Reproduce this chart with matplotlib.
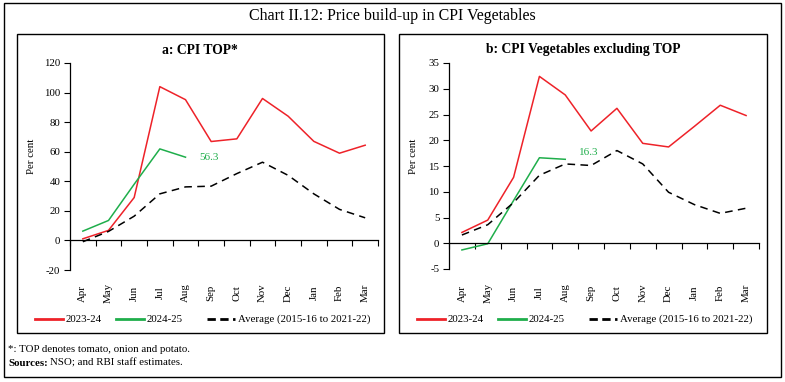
import numpy as np
import matplotlib
matplotlib.use("Agg")
import matplotlib.pyplot as plt
from matplotlib.patches import Rectangle
from matplotlib.lines import Line2D
from matplotlib.transforms import blended_transform_factory

plt.rcParams['font.family'] = ['Liberation Serif', 'DejaVu Serif']

months = ["Apr", "May", "Jun", "Jul", "Aug", "Sep", "Oct", "Nov", "Dec", "Jan", "Feb", "Mar"]

top_2324 = [1.1, 6.8, 29.0, 104.0, 95.2, 66.9, 68.7, 96.0, 84.0, 67.0, 59.0, 64.4]
top_2425 = [6.3, 13.5, 38.0, 61.9, 56.3]
top_avg = [-0.9, 6.1, 16.4, 31.5, 36.2, 36.7, 45.2, 52.9, 44.0, 31.5, 21.0, 15.3]

veg_2324 = [2.1, 4.5, 12.8, 32.4, 28.8, 21.8, 26.2, 19.4, 18.7, 22.7, 26.8, 24.8]
veg_2425 = [-1.3, -0.1, 8.3, 16.6, 16.3]
veg_avg = [1.6, 3.6, 7.9, 13.2, 15.4, 15.1, 18.0, 15.4, 9.9, 7.5, 5.8, 6.8]

series_labels = ["2023-24", "2024-25", "Average (2015-16 to 2021-22)"]

RED = "#ee2229"
GREEN = "#1fae4b"
BLACK = "#000000"

W, H = 785, 382
fig = plt.figure(figsize=(W / 100, H / 100), dpi=100)


def fx(px):
    return px / W


def fy(py):
    return 1 - py / H


def rect(x0, y0, x1, y1, lw=1.0):
    fig.add_artist(Rectangle((fx(x0), fy(y1)), fx(x1) - fx(x0), fy(y0) - fy(y1),
                             transform=fig.transFigure, fill=False,
                             edgecolor="black", linewidth=lw))


# Outer and panel borders
rect(4, 3, 781, 377, lw=1.0)
rect(17, 34, 384, 333, lw=1.0)
rect(399, 34, 767, 333, lw=1.0)

fig.text(fx(392), fy(16), "Chart II.12: Price build-up in CPI Vegetables",
         ha="center", va="center", fontsize=11.5)


def make_panel(x0, x1, ytop, ybot, ylim, ystep, title, title_x, d2324, d2425, davg,
               annot, annot_xy, ylab_x, offset):
    ax = fig.add_axes([fx(x0), fy(ybot), fx(x1) - fx(x0), fy(ytop) - fy(ybot)])
    x = np.arange(len(months))
    ax.plot(x, d2324, color=RED, lw=1.1)
    ax.plot(x[:len(d2425)], d2425, color=GREEN, lw=1.1)
    ax.plot(x, davg, color=BLACK, lw=1.1, dashes=(5, 3.5))
    ax.set_xlim(-0.5, len(months) - 0.5)
    ax.set_ylim(*ylim)
    ax.set_yticks(np.arange(ylim[0], ylim[1] + 0.1, ystep))
    ax.set_yticklabels([f"{v:g}" for v in np.arange(ylim[0], ylim[1] + 0.1, ystep)])
    ax.spines["top"].set_visible(False)
    ax.spines["right"].set_visible(False)
    ax.spines["bottom"].set_position(("data", 0))
    for s in ("left", "bottom"):
        ax.spines[s].set_linewidth(0.9)
    ax.set_xticks(np.arange(-0.5, len(months), 1.0))
    ax.set_xticklabels([])
    ax.tick_params(axis="x", direction="out", length=4, width=0.8)
    ax.tick_params(axis="y", direction="out", length=4, width=0.8, labelsize=7.8, pad=3)
    ax.patch.set_alpha(0)
    trans = blended_transform_factory(ax.transData, ax.transAxes)
    ypos = -(293 - ybot) / (ybot - ytop)
    for i, m in enumerate(months):
        ax.text(i, ypos, m, rotation=90, ha="center", va="center",
                fontsize=7.8, transform=trans)
    ax.text(annot_xy[0], annot_xy[1], annot, color=GREEN, fontsize=8,
            ha="left", va="center")
    fig.text(fx(title_x), fy(50), title, ha="center", va="center",
             fontsize=9.8, fontweight="bold")
    fig.text(fx(ylab_x), fy((ytop + ybot) / 2 - 10), "Per cent", rotation=90,
             ha="center", va="center", fontsize=7.8)
    # legend
    ly = fy(319)
    handles = [(35, 63, RED, None), (116, 144, GREEN, None), (207, 235, BLACK, (3, 1.6))]
    for (a, b, c, d), lab in zip(handles, series_labels):
        ln = Line2D([fx(a + offset), fx(b + offset)], [ly, ly], transform=fig.transFigure,
                    color=c, lw=2.0)
        if d is not None:
            ln.set_dashes(d)
        fig.add_artist(ln)
        fig.text(fx(b + offset + 3), ly, lab, ha="left", va="center", fontsize=7.8)
    return ax


make_panel(70, 378, 63, 270, (-20, 120), 20, "a: CPI TOP*", 200,
           top_2324, top_2425, top_avg, "56.3", (4.55, 56.3), 31, 0)
make_panel(449, 759, 63, 269, (-5, 35), 5, "b: CPI Vegetables excluding TOP", 583,
           veg_2324, veg_2425, veg_avg, "16.3", (4.55, 17.6), 413, 382)

fig.text(fx(8), fy(349), "*: TOP denotes tomato, onion and potato.",
         ha="left", va="center", fontsize=7.8)
t = fig.text(fx(8), fy(363), "Sources:", ha="left", va="center", fontsize=7.8,
             fontweight="bold")
fig.canvas.draw()
bb = t.get_window_extent(renderer=fig.canvas.get_renderer())
fig.text(bb.x1 / W + fx(2.5), fy(363), "NSO; and RBI staff estimates.",
         ha="left", va="center", fontsize=7.8)

fig.savefig("out.png", dpi=100)
